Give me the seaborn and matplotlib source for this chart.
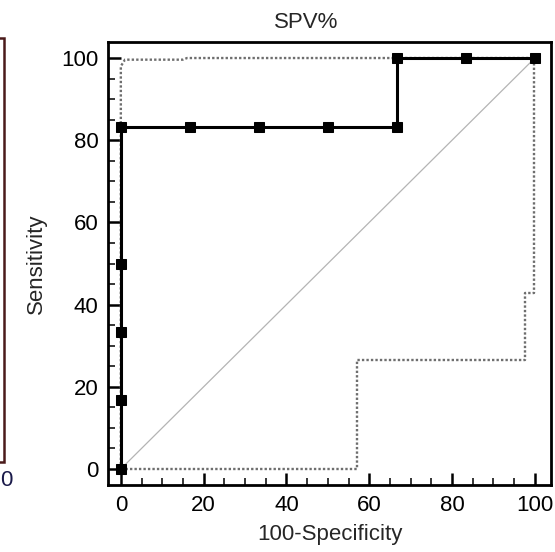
import matplotlib
matplotlib.use('Agg')
import matplotlib.pyplot as plt
import seaborn as sns
import pandas as pd

# ROC points (100-Specificity, Sensitivity)
roc_x = [0, 0, 0, 0, 0, 16.7, 33.3, 50, 66.7, 66.7, 83.3, 100]
roc_y = [0, 16.7, 33.3, 50, 83.3, 83.3, 83.3, 83.3, 83.3, 100, 100, 100]

# confidence bounds (dotted)
upper_x = [0, 0, 1, 15, 16, 66.7, 100]
upper_y = [0, 98, 99.6, 99.6, 100, 100, 100]
lower_x = [0, 57, 57, 97.6, 97.6, 99.8, 99.8, 100]
lower_y = [0, 0, 26.4, 26.4, 42.7, 42.7, 100, 100]

diag = [0, 100]

sns.set_style('white')
plt.rcParams['font.family'] = ['Liberation Sans', 'DejaVu Sans']

fig = plt.figure(figsize=(5.55, 5.52), dpi=100)
ax = fig.add_axes([108/555, 67/552, 443/555, 443/552])

dotted = dict(ax=ax, color='#6e6e6e', linewidth=1.7, linestyle=(0, (1, 0.9)),
              sort=False, estimator=None)
sns.lineplot(x=diag, y=diag, ax=ax, color='#b4b4b4', linewidth=0.9,
             sort=False, estimator=None)
sns.lineplot(x=upper_x, y=upper_y, **dotted)
sns.lineplot(x=lower_x, y=lower_y, **dotted)
roc = pd.DataFrame({'x': roc_x, 'y': roc_y})
sns.lineplot(data=roc, x='x', y='y', ax=ax, color='black', linewidth=2.2,
             marker='s', markersize=7.5, markeredgecolor='black',
             sort=False, estimator=None)

ax.set_xlim(-3.1, 103.9)
ax.set_ylim(-3.9, 103.9)
ax.set_xticks([0, 20, 40, 60, 80, 100])
ax.set_yticks([0, 20, 40, 60, 80, 100])
ax.set_xticks(range(0, 101, 5), minor=True)
ax.set_yticks(range(0, 101, 5), minor=True)
ax.tick_params(which='major', direction='in', length=9, width=1.8, labelsize=16,
               colors='black', pad=7)
ax.tick_params(which='minor', direction='in', length=5, width=1.3)
ax.tick_params(axis='x', which='both', bottom=True, top=False)
ax.tick_params(axis='y', which='both', left=True, right=False)
for s in ax.spines.values():
    s.set_linewidth(2.0)
    s.set_color('black')

ax.set_xlabel('100-Specificity', fontsize=16, labelpad=6)
ax.set_ylabel('Sensitivity', fontsize=16, labelpad=10)
fig.text(306/555, 1 - 23/552, 'SPV%', fontsize=16, ha='center', va='center')

# edge of the neighbouring panel on the left
fig.add_artist(plt.Rectangle((-0.5, (552-462)/552), 0.5 + 4/555, (462-38)/552,
                             transform=fig.transFigure, fill=False,
                             edgecolor='#4a1a1a', linewidth=1.8))
fig.text(0.5/555, 1 - 481/552, '0', fontsize=16, ha='left', va='center',
         color='#1a1a4a')

fig.savefig('out.png', dpi=100)
